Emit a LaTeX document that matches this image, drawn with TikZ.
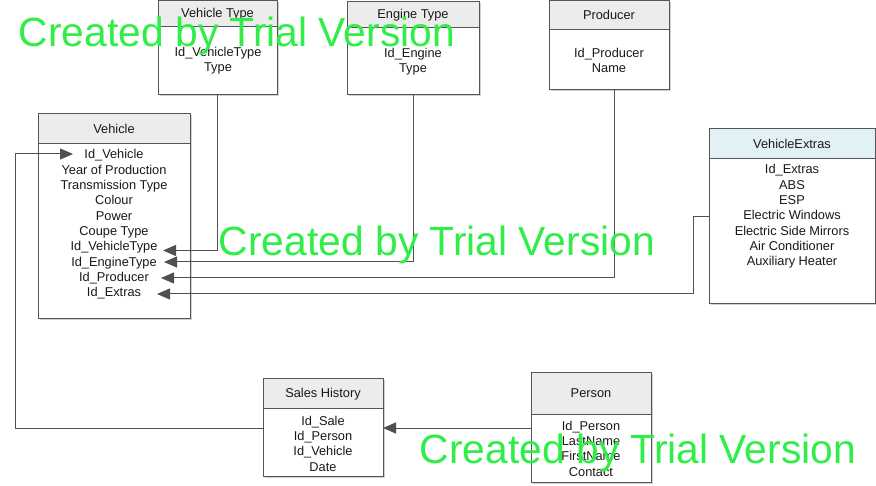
\documentclass[tikz,border=0pt]{standalone}
\usepackage{fontspec}
\setmainfont{Liberation Sans}
\usetikzlibrary{arrows.meta,shadows,calc}
\definecolor{boxc}{HTML}{555555}
\definecolor{linec}{HTML}{505050}
\definecolor{hdrgray}{HTML}{ECECEC}
\definecolor{hdrblue}{HTML}{E2F1F6}
\definecolor{wm}{RGB}{48,238,72}
\tikzset{
  ent/.style={draw=boxc, fill=white, line width=1pt, anchor=north west, inner sep=0pt, outer sep=0pt,
    drop shadow={shadow xshift=1.5pt, shadow yshift=-1.5pt, fill=black!18, opacity=1}},
  txt/.style={font=\fontsize{12.8}{15.33}\selectfont, text=black!90, align=center, inner sep=0pt},
  conn/.style={draw=linec, line width=1pt},
  arr/.style={conn, -{Triangle[length=13pt,width=11pt]}, shorten >=0pt},
  wmark/.style={font=\fontsize{40.8}{44}\selectfont, text=wm, inner sep=0pt}
}
\newcommand\mkentity[8]{% name, x, y, w, h, header bottom, title, header colour
  \node[ent, minimum width=#4pt, minimum height=#5pt] (#1) at (#2,#3) {};
  \fill[#8] (#1.north west) rectangle (#1.east |- 0,#6);
  \draw[boxc, line width=1pt] (#1.west |- 0,#6) -- (#1.east |- 0,#6);
  \draw[boxc, line width=1pt] (#1.north west) rectangle (#1.south east);
  \node[txt] at ($(#1.north)!0.5!(#1.north |- 0,#6)$) {#7};
}
\begin{document}
\begin{tikzpicture}[x=1pt,y=-1pt]
\useasboundingbox[fill=white] (0,0) rectangle (876,486);

% entities
\mkentity{vt}{158}{1}{119}{94}{27}{Vehicle Type}{hdrgray}
\node[txt] at (218,60.5) {Id\_VehicleType\\Type};

\mkentity{et}{347}{2}{132}{93}{28}{Engine Type}{hdrgray}
\node[txt] at (413,61.5) {Id\_Engine\\Type};

\mkentity{pr}{549}{0.5}{120}{89.5}{30}{Producer}{hdrgray}
\node[txt] at (609,60.5) {Id\_Producer\\Name};

\mkentity{ve}{38}{114}{152}{205}{144}{Vehicle}{hdrgray}
\node[txt] at (114,224.5) {Id\_Vehicle\\Year of Production\\Transmission Type\\Colour\\Power\\Coupe Type\\Id\_VehicleType\\Id\_EngineType\\Id\_Producer\\Id\_Extras};

\mkentity{vx}{709}{129}{166}{175}{159}{VehicleExtras}{hdrblue}
\node[txt] at (792,216.5) {Id\_Extras\\ABS\\ESP\\Electric Windows\\Electric Side Mirrors\\Air Conditioner\\Auxiliary Heater};

\mkentity{sh}{263}{379}{120}{97}{409}{Sales History}{hdrgray}
\node[txt] at (323,443.5) {Id\_Sale\\Id\_Person\\Id\_Vehicle\\Date};

\mkentity{pe}{531}{373}{120}{109}{414}{Person}{hdrgray}
\node[txt] at (591,448.5) {Id\_Person\\LastName\\FirstName\\Contact};

% arrow targets inside Vehicle
\coordinate (tVT) at (163,250.5);
\coordinate (tET) at (164,262);
\coordinate (tPR) at (161,278);
\coordinate (tVX) at (157,294);
\coordinate (tVE) at (73,154);

% connectors
\draw[arr] (vt.south) |- (tVT);
\draw[arr] (et.south) |- (tET);
\draw[arr] ($(pr.south)+(5,0)$) |- (tPR);
\draw[arr] (vx.west |- 0,217) -- (693,217) |- (tVX);
\draw[arr] (sh.west |- 0,428) -- (15,428) |- (tVE);
\draw[arr] (pe.west |- 0,428) -- (sh.east |- 0,428);

% watermarks
\node[wmark] (w1) at (237,36) {Created by Trial Version};
\node[wmark] (w2) at (437,245) {Created by Trial Version};
\node[wmark] (w3) at (638,453) {Created by Trial Version};
\end{tikzpicture}
\end{document}
